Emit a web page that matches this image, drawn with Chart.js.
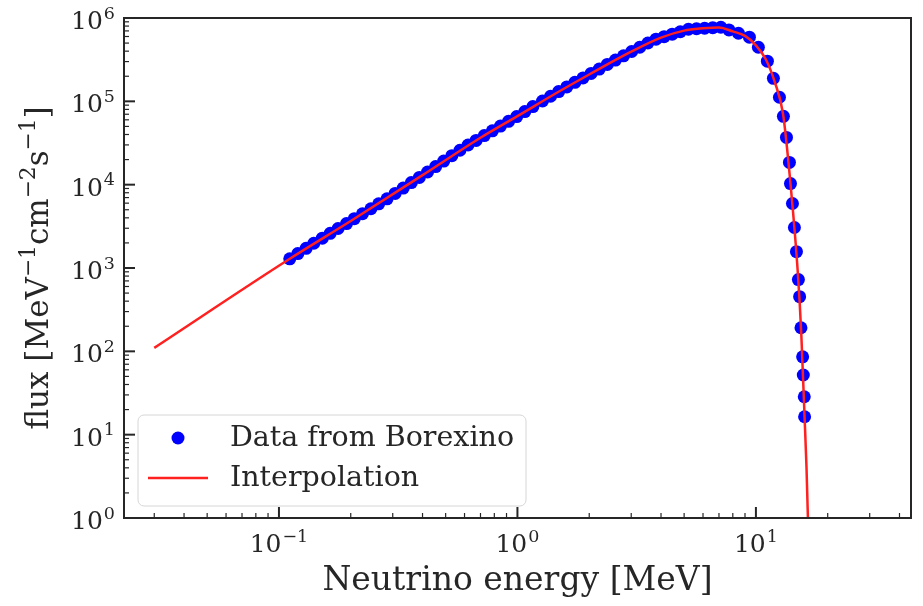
<!DOCTYPE html>
<html lang="en">
<head>
<meta charset="UTF-8">
<title>Borexino neutrino flux</title>
<style>
    body { margin: 0; background: #fff; }
    .wrap { width: 923px; height: 606px; }
</style>
</head>
<body>
<div class="wrap"><canvas id="fluxChart"></canvas></div>
<script src="https://cdn.jsdelivr.net/npm/chart.js"></script>
<script>
// Borexino data points (MeV, MeV^-1 cm^-2 s^-1)
const dotEnergy = [0.111, 0.120, 0.130, 0.140, 0.152, 0.164, 0.177, 0.192, 0.207, 0.224,
    0.243, 0.262, 0.284, 0.307, 0.332, 0.359, 0.388, 0.420, 0.454, 0.491,
    0.531, 0.574, 0.621, 0.671, 0.726, 0.785, 0.849, 0.918, 0.993, 1.074,
    1.161, 1.274, 1.377, 1.489, 1.611, 1.742, 1.884, 2.037, 2.203, 2.382,
    2.576, 2.786, 3.013, 3.258, 3.524, 3.811, 4.121, 4.457, 4.819, 5.212,
    5.636, 6.095, 6.592, 7.129, 7.709, 8.45, 9.39, 10.24, 11.17, 11.84,
    12.55, 13.04, 13.43, 13.82, 13.96, 14.23, 14.50, 14.79, 15.07, 15.25,
    15.45, 15.70, 15.80, 15.95, 16.00];
const dotFlux = [1290, 1490, 1720, 1980, 2280, 2610, 2980, 3410, 3910, 4480,
    5140, 5890, 6770, 7850, 9100, 10600, 12200, 14200, 16500, 19200,
    22300, 25900, 29900, 34000, 38800, 44300, 50500, 57500, 65700, 75400,
    86500, 101000, 115000, 131000, 149000, 169000, 191000, 216000, 244000, 277000,
    313000, 352000, 396000, 446000, 501000, 557000, 597000, 640000, 684000, 733000,
    743000, 753000, 764000, 774000, 719000, 656000, 588000, 446000, 303000, 189000,
    112000, 66000, 36900, 18500, 10300, 5940, 3060, 1570, 726, 453,
    192, 86, 52, 28.5, 16.4];

// interpolation curve
const lineEnergy = [0.03, 0.111, 0.2, 0.4, 0.7, 1.0, 1.5, 2.0, 3.0, 4.0,
    5.0, 6.0, 7.0, 8.0, 9.0, 10.0, 11.0, 12.0, 13.0, 14.0,
    15.0, 15.5, 16.0, 16.3, 16.6];
const lineFlux = [110, 1290, 3660, 13000, 36600, 66500, 132000, 210000, 394000, 581000,
    706000, 752000, 771000, 690000, 610000, 470000, 320000, 170000, 70000, 9500,
    850, 160, 16, 4, 0.6];

const xRange = [0.0224, 44.7];
const yRange = [1, 1e6];
const xPowers = [-1, 0, 1];
const yPowers = [0, 1, 2, 3, 4, 5, 6];

const fam = '"DejaVu Serif", serif';
const ink = '#262626';

function toPoints(xs, ys) {
    return xs.map((x, i) => ({ x: x, y: ys[i] }));
}

// draws "10" with a raised exponent
function powLabel(ctx, exp, x, y, size, align) {
    const sup = exp < 0 ? '\u2212' + Math.abs(exp) : String(exp);
    ctx.font = size + 'px ' + fam;
    const wb = ctx.measureText('10').width;
    ctx.font = (size * 0.7) + 'px ' + fam;
    const ws = ctx.measureText(sup).width;
    const total = wb + 1 + ws;
    const x0 = align === 'center' ? x - total / 2 : x - total;
    ctx.textAlign = 'left';
    ctx.textBaseline = 'alphabetic';
    ctx.font = size + 'px ' + fam;
    ctx.fillText('10', x0, y);
    ctx.font = (size * 0.7) + 'px ' + fam;
    ctx.fillText(sup, x0 + wb + 1, y - size * 0.42);
}

// text made of normal and superscript pieces, centred on x
function richText(ctx, parts, x, y, size) {
    let total = 0;
    parts.forEach(p => {
        ctx.font = (p.sup ? size * 0.7 : size) + 'px ' + fam;
        p.w = ctx.measureText(p.t).width;
        total += p.w;
    });
    let cx = x - total / 2;
    ctx.textAlign = 'left';
    ctx.textBaseline = 'alphabetic';
    parts.forEach(p => {
        ctx.font = (p.sup ? size * 0.7 : size) + 'px ' + fam;
        ctx.fillText(p.t, cx, p.sup ? y - size * 0.42 : y);
        cx += p.w;
    });
}

function minorValues(lo, hi) {
    const out = [];
    for (let k = Math.floor(Math.log10(lo)); k <= Math.ceil(Math.log10(hi)); k++) {
        for (let m = 2; m <= 9; m++) {
            const v = m * Math.pow(10, k);
            if (v > lo && v < hi) out.push(v);
        }
    }
    return out;
}

const framePlugin = {
    id: 'frame',
    afterDraw(chart) {
        const ctx = chart.ctx;
        const a = chart.chartArea;
        const xs = chart.scales.x;
        const ys = chart.scales.y;
        ctx.save();
        ctx.strokeStyle = ink;
        ctx.fillStyle = ink;

        // inward ticks, left and bottom
        ctx.lineWidth = 1.2;
        minorValues(xRange[0], xRange[1]).forEach(v => {
            const px = xs.getPixelForValue(v);
            ctx.beginPath(); ctx.moveTo(px, a.bottom); ctx.lineTo(px, a.bottom - 5); ctx.stroke();
        });
        minorValues(yRange[0], yRange[1]).forEach(v => {
            const py = ys.getPixelForValue(v);
            ctx.beginPath(); ctx.moveTo(a.left, py); ctx.lineTo(a.left + 5, py); ctx.stroke();
        });
        ctx.lineWidth = 2;
        xPowers.forEach(e => {
            const px = xs.getPixelForValue(Math.pow(10, e));
            ctx.beginPath(); ctx.moveTo(px, a.bottom); ctx.lineTo(px, a.bottom - 11); ctx.stroke();
            powLabel(ctx, e, px, a.bottom + 34, 25, 'center');
        });
        yPowers.forEach(e => {
            const py = ys.getPixelForValue(Math.pow(10, e));
            ctx.beginPath(); ctx.moveTo(a.left, py); ctx.lineTo(a.left + 11, py); ctx.stroke();
            powLabel(ctx, e, a.left - 9, py + 11, 25, 'right');
        });

        // spines
        ctx.lineWidth = 2;
        ctx.strokeRect(a.left, a.top, a.right - a.left, a.bottom - a.top);

        // axis titles
        richText(ctx, [{ t: 'Neutrino energy [MeV]' }], (a.left + a.right) / 2, 590, 33);
        ctx.save();
        ctx.translate(48, (a.top + a.bottom) / 2);
        ctx.rotate(-Math.PI / 2);
        richText(ctx, [
            { t: 'flux [MeV' }, { t: '\u22121', sup: true },
            { t: 'cm' }, { t: '\u22122', sup: true },
            { t: 's' }, { t: '\u22121', sup: true },
            { t: ']' }
        ], 0, 0, 31);
        ctx.restore();

        // legend
        const lx = a.left + 14, ly = 415, lw = 388, lh = 91;
        ctx.beginPath();
        ctx.roundRect(lx, ly, lw, lh, 6);
        ctx.fillStyle = 'rgba(255,255,255,0.8)';
        ctx.fill();
        ctx.lineWidth = 1;
        ctx.strokeStyle = '#d6d6d6';
        ctx.stroke();

        ctx.fillStyle = '#0000ff';
        ctx.beginPath(); ctx.arc(lx + 40, 438, 6.5, 0, Math.PI * 2); ctx.fill();
        ctx.strokeStyle = '#ff2020';
        ctx.lineWidth = 2.5;
        ctx.beginPath(); ctx.moveTo(lx + 10, 478); ctx.lineTo(lx + 70, 478); ctx.stroke();

        ctx.fillStyle = ink;
        ctx.font = '28.5px ' + fam;
        ctx.textAlign = 'left';
        ctx.textBaseline = 'alphabetic';
        ctx.fillText('Data from Borexino', lx + 92, 446);
        ctx.fillText('Interpolation', lx + 92, 486);
        ctx.restore();
    }
};

const ctx = document.getElementById('fluxChart').getContext('2d');
new Chart(ctx, {
    type: 'scatter',
    data: {
        datasets: [
            {
                label: 'Interpolation',
                data: toPoints(lineEnergy, lineFlux),
                showLine: true,
                borderColor: '#ff2020',
                borderWidth: 2.5,
                pointRadius: 0,
                cubicInterpolationMode: 'monotone',
                order: 0
            },
            {
                label: 'Data from Borexino',
                data: toPoints(dotEnergy, dotFlux),
                backgroundColor: '#0000ff',
                borderWidth: 0,
                pointRadius: 6.5,
                order: 1
            }
        ]
    },
    options: {
        responsive: true,
        maintainAspectRatio: false,
        animation: false,
        layout: { padding: { top: 18, right: 12, left: 0, bottom: 0 } },
        plugins: { legend: { display: false }, tooltip: { enabled: false } },
        scales: {
            x: {
                type: 'logarithmic',
                min: xRange[0],
                max: xRange[1],
                grid: { display: false },
                border: { display: false },
                ticks: { display: false },
                afterFit: s => { s.height = 88; }
            },
            y: {
                type: 'logarithmic',
                min: yRange[0],
                max: yRange[1],
                grid: { display: false },
                border: { display: false },
                ticks: { display: false },
                afterFit: s => { s.width = 124; }
            }
        }
    },
    plugins: [framePlugin]
});
</script>
</body>
</html>
